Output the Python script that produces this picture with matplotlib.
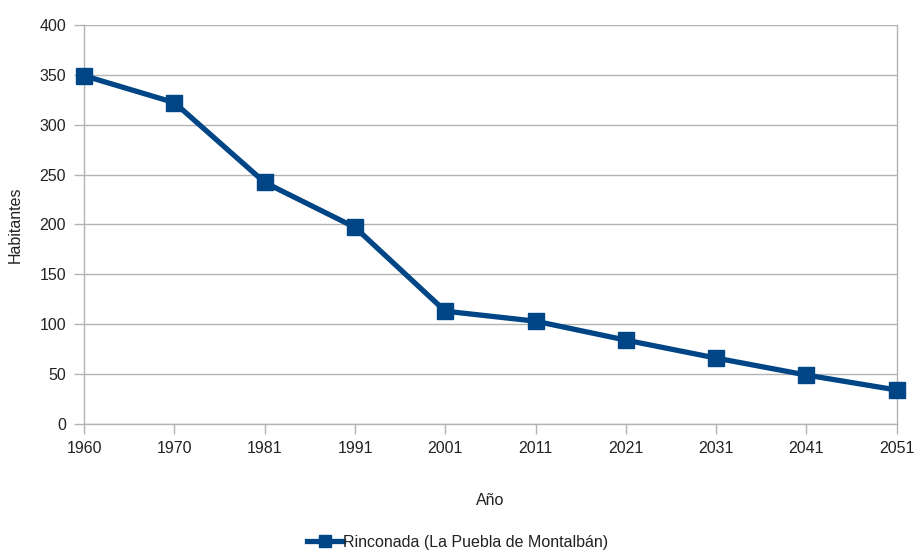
import matplotlib
matplotlib.use("Agg")
import matplotlib.pyplot as plt

years = ["1960", "1970", "1981", "1991", "2001", "2011", "2021", "2031", "2041", "2051"]
habitantes = [349, 322, 242, 197, 113, 103, 84, 66, 49, 34]
series_name = "Rinconada (La Puebla de Montalbán)"
yticks = [0, 50, 100, 150, 200, 250, 300, 350, 400]

plt.rcParams['font.family'] = ['Liberation Sans', 'DejaVu Sans']

fig = plt.figure(figsize=(9.15, 5.52), dpi=100)
ax = fig.add_axes([0.092, 0.232, 0.888, 0.723])

x = list(range(len(years)))
color = "#004586"
ax.plot(x, habitantes, color=color, linewidth=3.8, marker="s", markersize=11,
        markerfacecolor=color, markeredgecolor=color, label=series_name, clip_on=False, zorder=3)

ax.set_xlim(0, len(years) - 1)
ax.set_ylim(0, 400)
ax.set_yticks(yticks)
ax.set_xticks(x)
ax.set_xticklabels(years)
ax.yaxis.grid(True, color="#b3b3b3", linewidth=1)
ax.set_axisbelow(True)

ax.spines["top"].set_visible(False)
for s in ["left", "bottom", "right"]:
    ax.spines[s].set_color("#b3b3b3")
    ax.spines[s].set_linewidth(1)

ax.tick_params(axis="both", colors="#b3b3b3", labelcolor="#222222", labelsize=11.5, length=7, width=1)
ax.tick_params(axis="x", pad=5)
ax.tick_params(axis="y", pad=6)

ax.set_xlabel("Año", fontsize=11.5, color="#222222", labelpad=27)
ax.set_ylabel("Habitantes", fontsize=11.5, color="#222222", labelpad=12)

fig.legend(loc="center", bbox_to_anchor=(0.5, 0.018), frameon=False, fontsize=11.5,
           handlelength=2.2, handletextpad=0.0, labelcolor="#222222", markerscale=0.8)

fig.savefig("out.png", dpi=100)
